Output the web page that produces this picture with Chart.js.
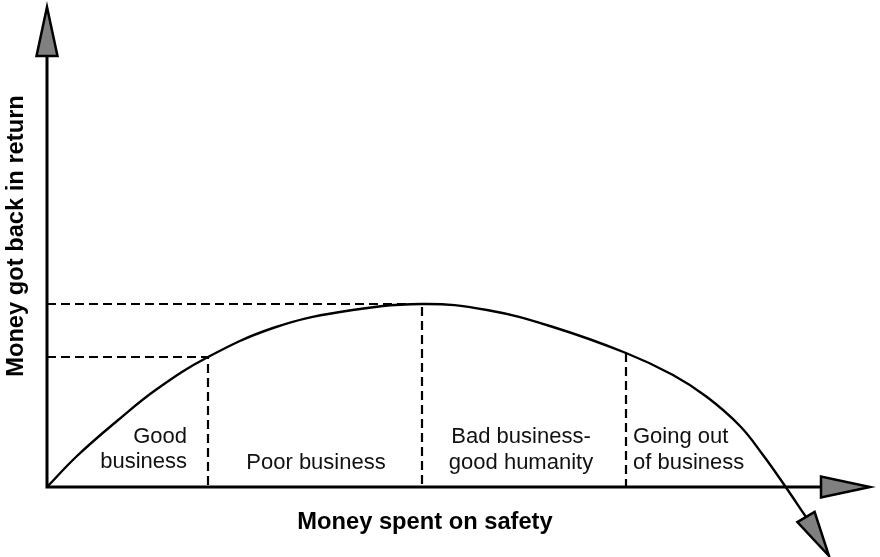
<!DOCTYPE html>
<html>
<head>
<meta charset="utf-8">
<script src="https://cdn.jsdelivr.net/npm/chart.js@4.4.1/dist/chart.umd.min.js"></script>
<style>
  html, body { margin: 0; padding: 0; background: #fff; }
  #wrap { width: 880px; height: 557px; }
</style>
</head>
<body>
<div id="wrap"><canvas id="safetyChart" width="880" height="557"></canvas></div>
<script>
// curve: money spent (x) vs money got back (y)
const spentX = [0, 30, 70, 110, 161, 226, 293, 375, 440, 506, 579, 626, 660, 693, 716, 738, 759];
const returnY = [0, 31, 66, 98, 130, 159, 175, 183, 177, 160, 134, 112, 90, 61, 32, 1, -30];

// dashed guide lines
const goodX = 161, goodY = 130;
const peakX = 375, peakY = 183;
const outX = 579, outY = 134;

const xTitle = "Money spent on safety";
const yTitle = "Money got back in return";
const regionText = [["Good", "business"], ["Poor business"], ["Bad business-", "good humanity"], ["Going out", "of business"]];

const axisMaxX = 823;
const axisMaxY = 480;
const curveTip = { x: 782, y: -69 };

const toPts = (xs, ys) => xs.map((x, i) => ({ x: x, y: ys[i] }));

function arrowHead(ctx, bx, by, tx, ty, half) {
  const dx = tx - bx, dy = ty - by;
  const len = Math.hypot(dx, dy);
  const nx = -dy / len * half, ny = dx / len * half;
  ctx.beginPath();
  ctx.moveTo(tx, ty);
  ctx.lineTo(bx + nx, by + ny);
  ctx.lineTo(bx - nx, by - ny);
  ctx.closePath();
  ctx.fillStyle = "#808080";
  ctx.fill();
  ctx.lineWidth = 2.5;
  ctx.lineJoin = "miter";
  ctx.strokeStyle = "#000";
  ctx.stroke();
}

const axesPlugin = {
  id: "axesPlugin",
  beforeDatasetsDraw(chart) {
    const ctx = chart.ctx;
    const xs = chart.scales.x, ys = chart.scales.y;
    const ox = xs.getPixelForValue(0), oy = ys.getPixelForValue(0);
    ctx.save();
    ctx.strokeStyle = "#000";
    ctx.lineWidth = 3;
    ctx.lineCap = "butt";
    ctx.beginPath();
    ctx.moveTo(ox, ys.getPixelForValue(axisMaxY) + 30);
    ctx.lineTo(ox, oy);
    ctx.lineTo(xs.getPixelForValue(axisMaxX) - 30, oy);
    ctx.stroke();
    ctx.restore();
  },
  afterDatasetsDraw(chart) {
    const ctx = chart.ctx;
    const xs = chart.scales.x, ys = chart.scales.y;
    const px = v => xs.getPixelForValue(v), py = v => ys.getPixelForValue(v);
    ctx.save();
    // arrow heads
    arrowHead(ctx, px(0), py(axisMaxY) + 49, px(0), py(axisMaxY), 10.5);
    arrowHead(ctx, px(axisMaxX) - 49, py(0), px(axisMaxX), py(0), 10.5);
    const n = spentX.length - 1;
    arrowHead(ctx, px(spentX[n]), py(returnY[n]), px(curveTip.x), py(curveTip.y), 10);

    // region labels
    ctx.fillStyle = "#111";
    ctx.font = "22px 'Liberation Sans', Arial, sans-serif";
    ctx.textBaseline = "middle";
    ctx.textAlign = "right";
    ctx.fillText(regionText[0][0], px(140), py(50));
    ctx.fillText(regionText[0][1], px(140), py(25));
    ctx.textAlign = "center";
    ctx.fillText(regionText[1][0], px(269), py(24));
    ctx.fillText(regionText[2][0], px(474), py(50));
    ctx.fillText(regionText[2][1], px(474), py(24));
    ctx.textAlign = "left";
    ctx.fillText(regionText[3][0], px(586), py(50));
    ctx.fillText(regionText[3][1], px(586), py(24));

    // axis titles
    ctx.fillStyle = "#000";
    ctx.font = "bold 23.7px 'Liberation Sans', Arial, sans-serif";
    ctx.textAlign = "center";
    ctx.fillText(xTitle, px(378), py(-35));
    ctx.translate(16, py(251));
    ctx.rotate(-Math.PI / 2);
    ctx.fillText(yTitle, 0, 0);
    ctx.restore();
  }
};

const dashStyle = { borderColor: "#000", borderWidth: 2.2, borderDash: [9, 5], pointRadius: 0, tension: 0, fill: false };

new Chart(document.getElementById("safetyChart"), {
  type: "line",
  data: {
    datasets: [
      Object.assign({ data: [{ x: 0, y: peakY }, { x: peakX, y: peakY }, { x: peakX, y: 0 }] }, dashStyle),
      Object.assign({ data: [{ x: 0, y: goodY }, { x: goodX, y: goodY }, { x: goodX, y: 0 }] }, dashStyle),
      Object.assign({ data: [{ x: outX, y: outY }, { x: outX, y: 0 }] }, dashStyle),
      {
        data: toPts(spentX, returnY),
        borderColor: "#000",
        borderWidth: 2.4,
        pointRadius: 0,
        tension: 0.4,
        fill: false
      }
    ]
  },
  options: {
    responsive: false,
    animation: false,
    layout: { padding: { left: 47, right: 10, top: 7, bottom: 0 } },
    plugins: { legend: { display: false }, tooltip: { enabled: false } },
    scales: {
      x: { type: "linear", display: false, min: 0, max: axisMaxX },
      y: { type: "linear", display: false, min: -70, max: axisMaxY }
    }
  },
  plugins: [axesPlugin]
});
</script>
</body>
</html>
